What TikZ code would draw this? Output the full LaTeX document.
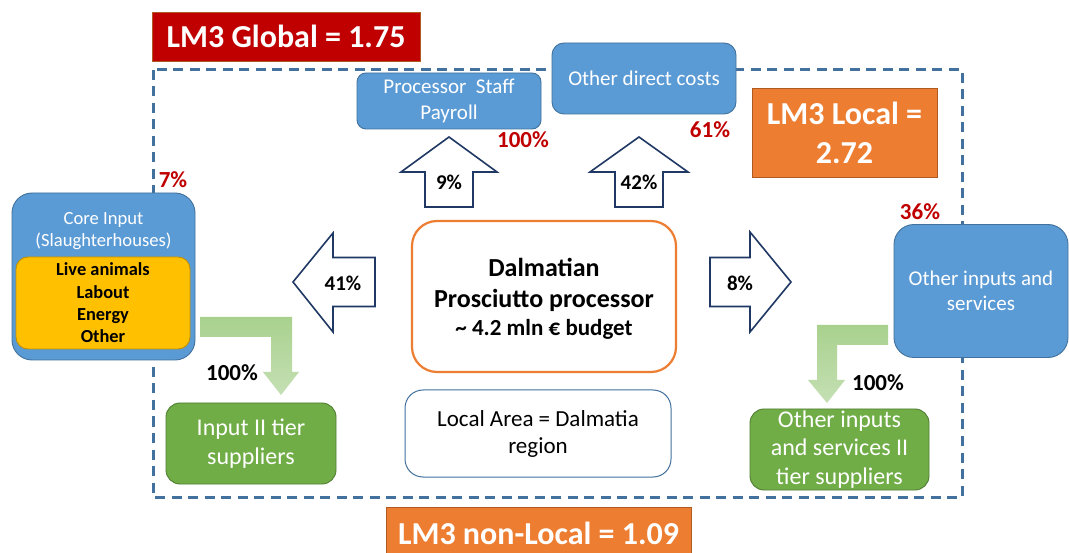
\documentclass[tikz,border=0pt]{standalone}
\usepackage{fontspec}
\setmainfont{Carlito}
\definecolor{blueF}{HTML}{5B9BD5}
\definecolor{blueD}{HTML}{41719C}
\definecolor{navy}{HTML}{1F3864}
\definecolor{orangeF}{HTML}{ED7D31}
\definecolor{orangeD}{HTML}{AE5A21}
\definecolor{redC}{HTML}{C00000}
\definecolor{greenF}{HTML}{70AD47}
\definecolor{greenD}{HTML}{507E32}
\definecolor{greenA}{HTML}{A9D18E}
\definecolor{greenB}{HTML}{C5E0B4}
\definecolor{yellowF}{HTML}{FFC000}
\definecolor{yellowD}{HTML}{BF9000}
\begin{document}
\begin{tikzpicture}[x=1pt,y=-1pt,
  dashframe/.style={draw=blueD, line width=3pt, dash pattern=on 10pt off 6.5pt},
  bluebox/.style={draw=blueD, line width=0.9pt, fill=blueF, text=white, align=center, inner sep=0pt},
  greenbox/.style={draw=greenD, line width=0.9pt, fill=greenF, text=white, align=center, inner sep=0pt, rounded corners=14pt, font=\fontsize{24}{29}\selectfont},
  lmbox/.style={text=white, align=center, inner sep=0pt, line width=0.8pt, font=\bfseries\fontsize{32}{39}\selectfont},
  redpct/.style={text=redC, font=\bfseries\fontsize{23}{27}\selectfont, inner sep=0pt},
  blackpct/.style={text=black, font=\bfseries\fontsize{23}{27}\selectfont, inner sep=0pt},
  arrowpct/.style={text=black, font=\bfseries\fontsize{21}{25}\selectfont, inner sep=0pt},
  blockarrow/.style={draw=navy, line width=1.6pt, fill=white, line join=miter},
  greenarrow/.style={top color=greenA, bottom color=greenB, draw=none}
]
\useasboundingbox (0,0) rectangle (1069,553);
\clip (0,0) rectangle (1069,553);
\fill[white] (0,0) rectangle (1069,553);

% dashed frame of the local area
\draw[dashframe] (153,70) rectangle (962,497);

% headline boxes
\node[lmbox, fill=redC, draw=orangeD, minimum width=268pt, minimum height=49pt] (global) at (286,36.5) {LM3 Global = 1.75};
\node[lmbox, fill=orangeF, draw=orangeD, minimum width=185pt, minimum height=89pt] (local) at (844.5,132.5) {LM3 Local =\\2.72};
\node[lmbox, fill=orangeF, draw=orangeD, minimum width=305pt, minimum height=56pt] (nonlocal) at (538.5,535) {\raisebox{3pt}{LM3 non-Local = 1.09}};

% top blue boxes
\node[bluebox, rounded corners=9pt, minimum width=184pt, minimum height=56pt, font=\fontsize{21}{26}\selectfont] (payroll) at (449,101) {Processor\ \ Staff\\Payroll};
\node[bluebox, rounded corners=12pt, minimum width=184pt, minimum height=71pt, font=\fontsize{21}{26}\selectfont] (direct) at (644,78.5) {Other direct costs};

% core input
\node[bluebox, rounded corners=20pt, minimum width=183pt, minimum height=167pt] (core) at (103.5,276.5) {};
\node[text=white, align=center, inner sep=0pt, font=\fontsize{18.6}{22}\selectfont] (coretxt) at (103.5,231) {Core Input\\(Slaughterhouses)};
\node[draw=yellowD, line width=0.9pt, fill=yellowF, rounded corners=12pt, minimum width=174pt, minimum height=92pt, inner sep=0pt, align=center, font=\bfseries\fontsize{18.4}{22.4}\selectfont] (yellow) at (103,303) {Live animals\\Labout\\Energy\\Other};

% other inputs and services
\node[bluebox, rounded corners=20pt, minimum width=174pt, minimum height=133pt, font=\fontsize{21}{25}\selectfont] (otherin) at (981,291) {Other inputs and\\services};

% central processor
\node[draw=orangeF, line width=2.2pt, fill=white, rounded corners=25pt, minimum width=264pt, minimum height=151pt, inner sep=0pt] (proc) at (544,296.5) {};
\node[align=center, inner sep=0pt, font=\bfseries\fontsize{26}{31}\selectfont] (proctxt) at (544,299) {Dalmatian\\Prosciutto processor\\[-3pt]\fontsize{23}{28}\selectfont\textasciitilde{} 4.2 mln € budget};

% local area note
\node[draw=blueD, line width=1pt, fill=white, rounded corners=18pt, minimum width=266pt, minimum height=87pt, inner sep=0pt, align=center, font=\fontsize{23}{27}\selectfont] (area) at (538,433.5) {Local Area = Dalmatia\\region};

% second tier suppliers
\node[greenbox, minimum width=170pt, minimum height=81pt] (input2) at (251,443.5) {Input II tier\\suppliers};
\node[greenbox, minimum width=179pt, minimum height=81pt, font=\fontsize{24}{28.5}\selectfont] (other2) at (839.5,449.5) {Other inputs\\and services II\\tier suppliers};

% block arrows
\draw[blockarrow] (449,137) -- (497,172) -- (473,172) -- (473,207) -- (425,207) -- (425,172) -- (401,172) -- cycle;
\draw[blockarrow] (639,137) -- (688,172) -- (663,172) -- (663,207) -- (615,207) -- (615,172) -- (590,172) -- cycle;
\draw[blockarrow] (293,282) -- (333,233) -- (333,257.5) -- (375,257.5) -- (375,306.5) -- (333,306.5) -- (333,332) -- cycle;
\draw[blockarrow] (791,282) -- (750,232) -- (750,257.5) -- (710,257.5) -- (710,306.5) -- (750,306.5) -- (750,332) -- cycle;
\node[arrowpct] (p9) at (449,182) {9\%};
\node[arrowpct] (p42) at (639,182) {42\%};
\node[arrowpct] (p41) at (343,283) {41\%};
\node[arrowpct] (p8) at (740,283) {8\%};

% green bent arrows
\path[greenarrow] (200,317) -- (292,317) -- (292,372) -- (299,372) -- (281,395) -- (263,372) -- (271,372) -- (271,337) -- (200,337) -- cycle;
\path[greenarrow] (888,325) -- (888,345) -- (837,345) -- (837,380) -- (845,380) -- (827,403) -- (808,380) -- (817,380) -- (817,325) -- cycle;

% percentages
\node[redpct] (r7) at (173,180) {7\%};
\node[redpct] (r100) at (523,140) {100\%};
\node[redpct] (r61) at (710,130) {61\%};
\node[redpct] (r36) at (920,212) {36\%};
\node[blackpct] (b100a) at (232,373) {100\%};
\node[blackpct] (b100b) at (878,383) {100\%};
\end{tikzpicture}
\end{document}
